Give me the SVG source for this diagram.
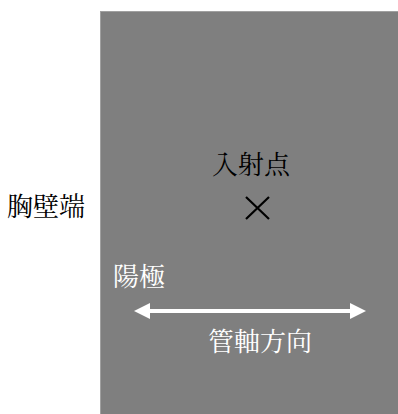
<svg xmlns="http://www.w3.org/2000/svg" width="398" height="414" viewBox="0 0 398 414">
<style>
text{font-family:"Noto Serif CJK JP","Noto Sans CJK JP",serif;font-size:26px}
.w{fill:#ffffff}
.k{fill:#000000}
</style>
<rect width="398" height="414" fill="#ffffff"/>
<g id="plate"><rect x="100.5" y="11.5" width="298" height="403" fill="#7f7f7f" stroke="#a0a0a0" stroke-width="1"/></g>
<g id="chest"><text class="k" x="7" y="216">胸壁端</text></g>
<g id="point"><text class="k" x="212" y="174">入射点</text>
<path d="M246 197L269 219M269 197L246 219" stroke="#000" stroke-width="2.2" fill="none"/></g>
<g id="anode"><text class="w" x="113" y="286">陽極</text></g>
<g id="axis"><text class="w" x="208" y="351">管軸方向</text></g>
<g id="connectors">
<line x1="148" y1="311" x2="352" y2="311" stroke="#fff" stroke-width="4"/>
<polygon points="134,311 150,303 150,319" fill="#fff"/>
<polygon points="366,311 350,303 350,319" fill="#fff"/>
</g>
</svg>
